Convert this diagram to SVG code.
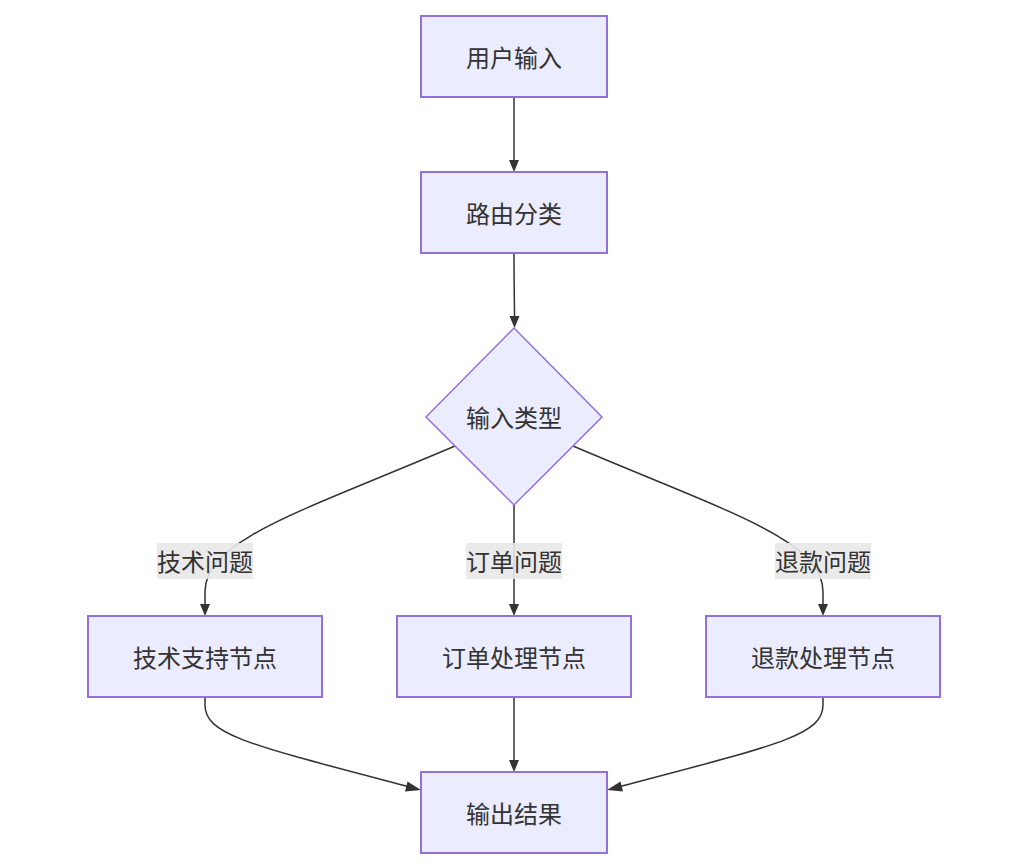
<svg xmlns="http://www.w3.org/2000/svg" width="1015" height="864" viewBox="0 0 1015 864">
<defs>
<style>
.node rect, .node polygon { fill: #ECECFF; stroke: #9370DB; stroke-width: 2; }
.node polygon { stroke-width: 1.5; }
.t { font-family: "Trebuchet MS", "Liberation Sans", "Noto Sans CJK SC", sans-serif; font-size: 24px; fill: #333333; text-anchor: middle; dominant-baseline: central; }
.edge { fill: none; stroke: #333333; stroke-width: 1.5; }
.head { fill: #333333; }
.lbg { fill: #e8e8e8; opacity: 0.9; }
</style>
</defs>
<rect width="1015" height="864" fill="#ffffff"/>
<g id="connectors">
<path class="edge" d="M514,97 L514,162"/>
<path class="head" d="M509,160 L519,160 L514,172 z"/>
<path class="edge" d="M514,253 C514,290 514.5,300 514.5,318"/>
<path class="head" d="M509.5,316 L519.5,316 L514.5,328 z"/>
<path class="edge" d="M455,446 C300,512 205,540 205,592 L205,606"/>
<path class="head" d="M200,604 L210,604 L205,616 z"/>
<path class="edge" d="M514,505 L514,606"/>
<path class="head" d="M509,604 L519,604 L514,616 z"/>
<path class="edge" d="M573,446 C728,512 823,540 823,592 L823,606"/>
<path class="head" d="M818,604 L828,604 L823,616 z"/>
<path class="edge" d="M205,697 L205,705 C205,735 250,745 410,787"/>
<path class="head" d="M407.5,781.5 L405,791.5 L421,790 z"/>
<path class="edge" d="M514,697 L514,762"/>
<path class="head" d="M509,760 L519,760 L514,772 z"/>
<path class="edge" d="M823,697 L823,705 C823,735 778,745 618,787"/>
<path class="head" d="M620.5,781.5 L623,791.5 L607,790 z"/>
</g>
<g id="edge-labels">
<g id="label-tech"><rect class="lbg" x="157" y="543" width="96" height="36"/><text class="t" x="205" y="562">技术问题</text></g>
<g id="label-order"><rect class="lbg" x="466" y="543" width="96" height="36"/><text class="t" x="514" y="562">订单问题</text></g>
<g id="label-refund"><rect class="lbg" x="775" y="543" width="96" height="36"/><text class="t" x="823" y="562">退款问题</text></g>
</g>
<g id="n-input" class="node"><rect x="421" y="16" width="186" height="81"/><text class="t" x="514" y="58">用户输入</text></g>
<g id="n-route" class="node"><rect x="421" y="172" width="186" height="81"/><text class="t" x="514" y="214">路由分类</text></g>
<g id="n-type" class="node"><polygon points="514,328 602,417 514,505 426,417"/><text class="t" x="514" y="418">输入类型</text></g>
<g id="n-tech" class="node"><rect x="88" y="616" width="234" height="81"/><text class="t" x="205" y="658">技术支持节点</text></g>
<g id="n-order" class="node"><rect x="397" y="616" width="234" height="81"/><text class="t" x="514" y="658">订单处理节点</text></g>
<g id="n-refund" class="node"><rect x="706" y="616" width="234" height="81"/><text class="t" x="823" y="658">退款处理节点</text></g>
<g id="n-output" class="node"><rect x="421" y="772" width="186" height="81"/><text class="t" x="514" y="814">输出结果</text></g>
</svg>
